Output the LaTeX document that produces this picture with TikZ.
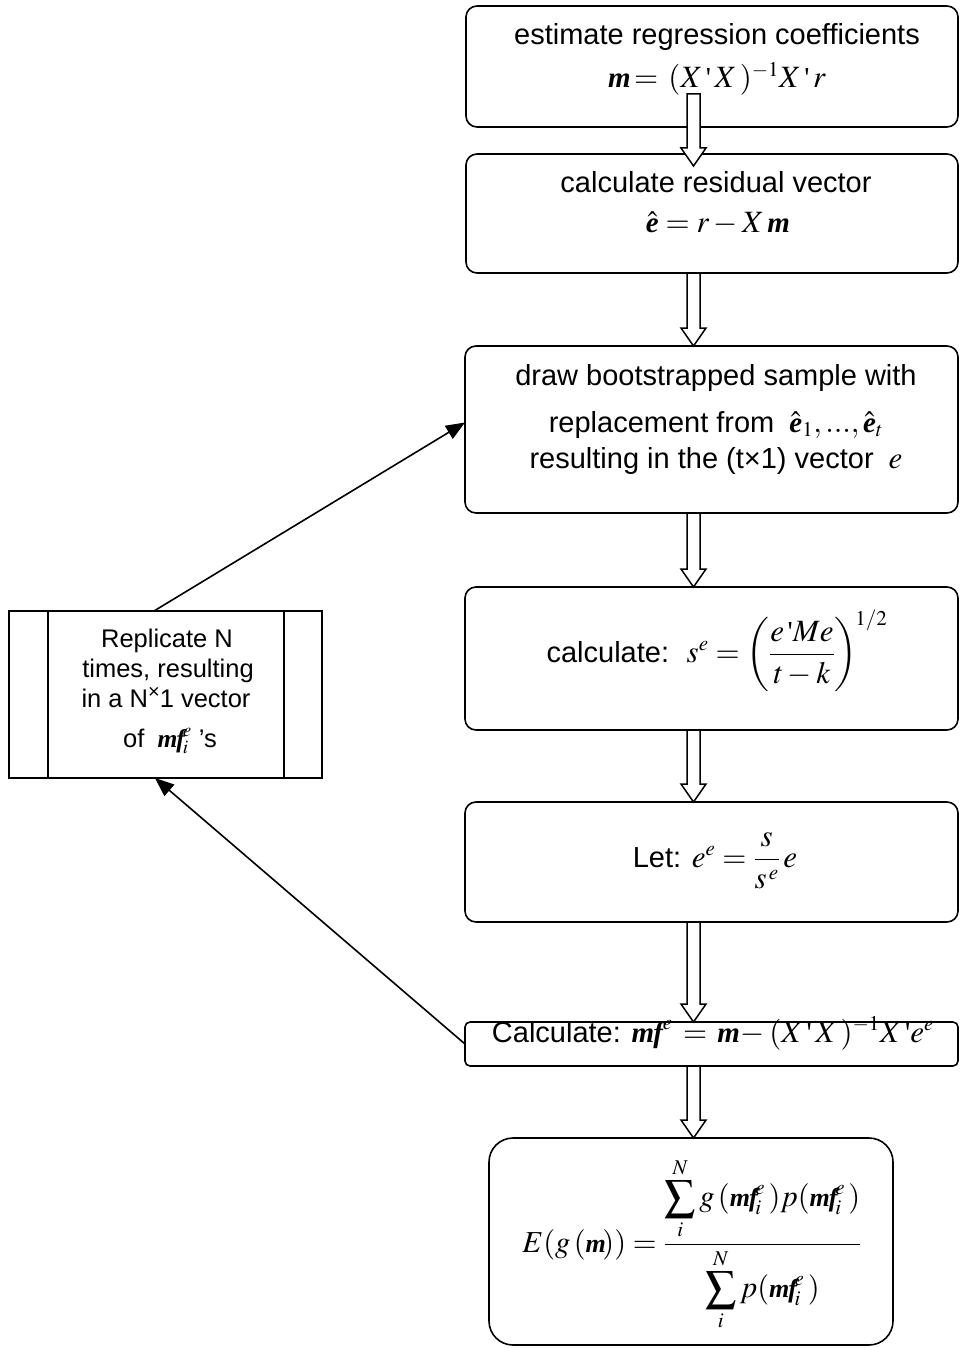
\documentclass[tikz,border=0pt]{standalone}
\usepackage{amsmath}
\usepackage{mathptmx}
\usepackage[no-math]{fontspec}
\setmainfont{Liberation Sans}
\newfontfamily\tms{Liberation Serif}
\usetikzlibrary{arrows.meta,calc}
\DeclareMathSizes{29}{31}{21}{16}
\DeclareMathSizes{26}{30.5}{21}{16}
\DeclareMathSizes{25.5}{27}{19}{14}
\newcommand\bmm{\mbox{\tms\bfseries\itshape m}}
\newcommand\bmf{\mbox{\tms\bfseries\itshape m\kern-1pt f}}
\newcommand\bee{\mbox{\tms\bfseries\itshape e}}
\newcommand\apo{\mbox{\tms\char39}}
\newcommand\hol[2]{%
  \draw[holl] let \p1=(#1), \p2=(#2) in
    (\x2-6.5pt,\y1) -- (\x2-6.5pt,\y2+18pt) -- (\x2-12.5pt,\y2+18pt) -- (\x2,\y2)
    -- (\x2+12.5pt,\y2+18pt) -- (\x2+6.5pt,\y2+18pt) -- (\x2+6.5pt,\y1) -- cycle;}
\begin{document}
\begin{tikzpicture}[x=1pt,y=-1pt,
  box/.style={draw, line width=1.6pt, rounded corners=11pt, inner sep=0pt, outer sep=0pt, anchor=north west},
  sbox/.style={box, rounded corners=5pt},
  bigbox/.style={box, rounded corners=24pt},
  lbox/.style={draw, line width=1.6pt, inner sep=0pt, outer sep=0pt, anchor=north west},
  txt/.style={anchor=base, inner sep=0pt, font=\fontsize{29}{36}\selectfont},
  ftxt/.style={anchor=base, inner sep=0pt, font=\fontsize{26}{32}\selectfont},
  ltxt/.style={anchor=base, inner sep=0pt, font=\fontsize{25.5}{30}\selectfont},
  holl/.style={draw, fill=white, line width=1.5pt, line join=miter},
  conn/.style={line width=1.6pt, -{Triangle[length=19pt,width=15pt]}}]
\useasboundingbox (0,0) rectangle (959,1348);
\fill[white] (0,0) rectangle (959,1348);

% boxes
\node[box, minimum width=492pt, minimum height=121pt] (b1) at (466,6) {};
\node[box, minimum width=492pt, minimum height=119pt] (b2) at (466,154) {};
\node[box, minimum width=493pt, minimum height=167pt] (b3) at (465,346) {};
\node[box, minimum width=493pt, minimum height=143pt] (b4) at (465,587) {};
\node[box, minimum width=493pt, minimum height=120pt] (b5) at (465,802) {};
\node[sbox, minimum width=493pt, minimum height=44pt] (b6) at (465,1022) {};
\node[bigbox, minimum width=404pt, minimum height=207pt] (b7) at (489,1138) {};
\node[lbox, minimum width=313pt, minimum height=167pt] (lb) at (9,611) {};
\draw[line width=1.6pt] ($(lb.north west)+(39,0)$) coordinate (lbi1) -- ($(lb.south west)+(39,0)$);
\draw[line width=1.6pt] ($(lb.north east)+(-38,0)$) coordinate (lbi2) -- ($(lb.south east)+(-38,0)$);

% hollow arrows
\coordinate (ax) at (693.5,0);
\coordinate (a1s) at ($(b1.south -| ax)+(0,-33)$);
\coordinate (a1e) at ($(b2.north -| ax)+(0,12)$);
\hol{a1s}{a1e}
\hol{b2.south -| ax}{b3.north -| ax}
\hol{b3.south -| ax}{b4.north -| ax}
\hol{b4.south -| ax}{b5.north -| ax}
\hol{b5.south -| ax}{b6.north -| ax}
\hol{b6.south -| ax}{b7.north -| ax}

% feedback connectors
\coordinate (c1) at ($(lb.north west)+(145,0)$);
\coordinate (c3) at ($(b3.west)+(0,-7)$);
\coordinate (c2) at ($(lb.south west)+(146,0)$);
\draw[conn] (c1) -- (c3);
\draw[conn] (b6.west) -- (c2);

% texts
\node[txt] (t1a) at (717,45) {estimate regression coefficients};
\node[txt] (t1b) at (717,88) {$\bmm\!=\,(X\,\apo\,X\,)^{-1}X\,\apo\,r$};
\node[txt] (t2a) at (716,193) {calculate residual vector};
\node[txt] (t2b) at (718,233) {$\hat{\bee} = r - X\,\bmm$};
\node[txt] (t3a) at (716,385) {draw bootstrapped sample with};
\node[txt] (t3b) at (716,432) {replacement from $\;\hat{\bee}_1,...,\hat{\bee}_t$};
\node[txt] (t3c) at (716,468) {resulting in the (t×1) vector $\;e$};
\node[txt] (t4) at (717,662) {calculate: $\;s^e = \biggl(\dfrac{e\,\apo Me}{t-k}\biggr)^{\!\scriptstyle 1/2}$};
\node[txt] (t5) at (715,867) {Let: $e^e = \dfrac{s}{s^{\,e}}\,e$};
\node[txt] (t6) at (713,1042) {Calculate: $\bmf^{e}\,=\,\bmm\!-(X\,\apo\,X\,)^{-1}X\,\apo e^e$};
\node[ftxt] (t7) at (692,1252) {$E(g\,(\bmm\!)) = \dfrac{\displaystyle\sum\limits_i^N g\,(\bmf^{\!e}_{\!i}\,)p(\bmf^{\!e}_{\!i}\,)}{\displaystyle\sum\limits_i^N p(\bmf^{\!e}_{\!i}\,)}$};

\node[ltxt] (l1) at (167,647) {Replicate N};
\node[ltxt] (l2) at (168,677) {times, resulting};
\node[ltxt] (l3) at (166,707) {in a N\raisebox{9pt}{\fontsize{20}{20}\selectfont ×}1 vector};
\node[ltxt] (l4) at (170,747) {of $\;\bmf^{\!e}_{\!i}$ 's};
\end{tikzpicture}
\end{document}
